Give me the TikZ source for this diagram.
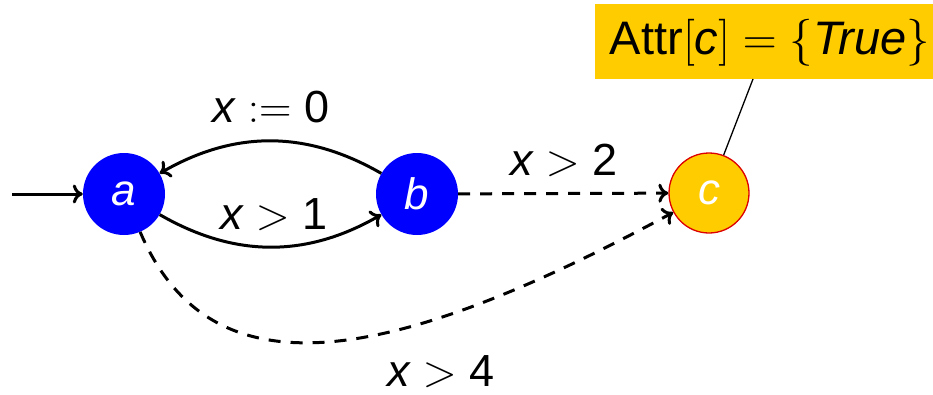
\RequirePackage{fix-cm}
\documentclass[tikz,border=0pt]{standalone}
\usepackage{fontspec}
\setmainfont{Liberation Sans}
\usetikzlibrary{arrows.meta}
\definecolor{nodeblue}{RGB}{0,0,255}
\definecolor{goldy}{RGB}{255,204,0}
\definecolor{redline}{RGB}{220,0,0}
\newcommand{\vx}{\mbox{\itshape x}}
\DeclareMathSizes{45}{45}{32}{23}
\DeclareMathSizes{47}{47}{33}{24}
\begin{document}
\begin{tikzpicture}[x=1pt,y=-1pt,
  font=\fontsize{45}{52}\selectfont,
  >={To[length=10pt,width=19pt]},
  state/.style={circle,minimum size=82pt,inner sep=0pt,text=white,font=\fontsize{44}{50}\selectfont\itshape},
  bluestate/.style={state,fill=nodeblue},
  goldstate/.style={state,fill=goldy,draw=redline,line width=1.3pt,minimum size=80pt},
  trans/.style={->,line width=3pt},
  dtrans/.style={->,line width=3pt,dash pattern=on 12pt off 10pt},
  lbl/.style={anchor=base,inner sep=0pt},
  attrbox/.style={fill=goldy,minimum width=338pt,minimum height=75pt,inner sep=0pt}
]
\useasboundingbox (0,0) rectangle (933,394);
\node[bluestate] (a) at (124,194) {a};
\node[bluestate] (b) at (417,194) {b};
\node[goldstate] (c) at (709,193) {c};
\node[attrbox] (attr) at (764,41.5) {};
\node[lbl,font=\fontsize{47}{54}\selectfont] (attrtext) at (770,54) {Attr$[\mbox{\itshape c}]=\{\mbox{\itshape True}\}$};
\coordinate (start) at (12,194);
\coordinate (attrfoot) at (753,79);

\draw[trans] (start) -- (a);
\draw[trans] (a) to[bend right=30] (b);
\draw[trans] (b) to[bend right=30] (a);
\draw[dtrans] (b) -- (c);
\draw[dtrans] (a) .. controls (210,396) and (385,368) .. (c);
\draw[line width=1.3pt] (c) -- (attrfoot);

\node[lbl] (l1) at (271,122) {$\vx := \mbox{0}$};
\node[lbl] (l2) at (274,229) {$\vx > \mbox{1}$};
\node[lbl] (l3) at (564,175.5) {$\vx > \mbox{2}$};
\node[lbl] (l4) at (441,386) {$\vx > \mbox{4}$};
\end{tikzpicture}
\end{document}
